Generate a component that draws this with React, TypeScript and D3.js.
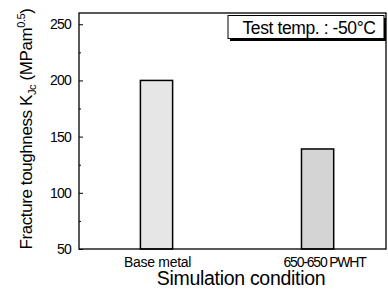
import * as d3 from 'd3';
import { useEffect, useRef } from 'react';

const categories = ['Base metal', '650-650 PWHT'];
const toughness = [200, 139];
const barFills = ['#e6e6e6', '#d4d4d4'];
const yTicks = [50, 100, 150, 200, 250];
const yMinorTicks = [75, 125, 175, 225];

const FONT = 'Liberation Sans, Arial, sans-serif';

const App = () => {
  const svgRef = useRef<SVGSVGElement>(null);

  useEffect(() => {
    const width = 388;
    const height = 292;
    const margin = { top: 13, right: 2, bottom: 43, left: 79 };

    const svg = d3.select(svgRef.current);
    svg.selectAll('*').remove();

    // bars sit off-centre, a bit right of the quarter marks
    const x = d3.scaleBand()
      .domain(categories)
      .range([margin.left, width - margin.right])
      .paddingInner(0.8)
      .paddingOuter(0.353)
      .align(0.54);

    const y = d3.scaleLinear()
      .domain([50, 260])
      .range([height - margin.bottom, margin.top]);

    // bars
    svg.selectAll('rect.bar')
      .data(categories)
      .join('rect')
      .attr('class', 'bar')
      .attr('x', d => x(d)!)
      .attr('y', (d, i) => y(toughness[i]))
      .attr('width', x.bandwidth())
      .attr('height', (d, i) => y(50) - y(toughness[i]))
      .attr('fill', (d, i) => barFills[i])
      .attr('stroke', '#000')
      .attr('stroke-width', 1.5);

    // frame
    svg.append('rect')
      .attr('x', margin.left)
      .attr('y', margin.top)
      .attr('width', width - margin.right - margin.left)
      .attr('height', height - margin.bottom - margin.top)
      .attr('fill', 'none')
      .attr('stroke', '#000')
      .attr('stroke-width', 1.3);

    // y axis
    const yAxis = svg.append('g')
      .attr('transform', `translate(${margin.left},0)`)
      .call(d3.axisLeft(y).tickValues(yTicks).tickSizeInner(-4).tickSizeOuter(0).tickPadding(8));
    yAxis.select('.domain').remove();
    yAxis.selectAll('text')
      .attr('font-family', FONT)
      .attr('font-size', 14)
      .attr('letter-spacing', -0.8)
      .attr('fill', '#000');

    svg.append('g')
      .attr('transform', `translate(${margin.left},0)`)
      .call(d3.axisLeft(y).tickValues(yMinorTicks).tickSizeInner(-2).tickSizeOuter(0).tickFormat(() => ''))
      .select('.domain').remove();

    // x axis labels
    const xAxis = svg.append('g')
      .attr('transform', `translate(0,${height - margin.bottom})`)
      .call(d3.axisBottom(x).tickSize(0).tickPadding(8));
    xAxis.select('.domain').remove();
    xAxis.selectAll('text')
      .attr('font-family', FONT)
      .attr('font-size', 14)
      .attr('letter-spacing', (d, i) => (i === 0 ? -0.3 : -1.2))
      .attr('dx', (d, i) => (i === 0 ? 1 : 7))
      .attr('fill', '#000');

    // axis titles
    svg.append('text')
      .attr('x', 241)
      .attr('y', 285)
      .attr('text-anchor', 'middle')
      .attr('font-family', FONT)
      .attr('font-size', 19.5)
      .attr('letter-spacing', -0.3)
      .text('Simulation condition');

    const yTitle = svg.append('text')
      .attr('transform', `translate(32,129) rotate(-90)`)
      .attr('text-anchor', 'middle')
      .attr('font-family', FONT)
      .attr('font-size', 17)
      .attr('letter-spacing', -0.4);
    yTitle.append('tspan').text('Fracture toughness K');
    yTitle.append('tspan').attr('font-size', 11).attr('dy', 4).text('Jc');
    yTitle.append('tspan').attr('dy', -4).text(' (MPam');
    yTitle.append('tspan').attr('font-size', 11).attr('dy', -7).text('0.5');
    yTitle.append('tspan').attr('dy', 7).text(')');

    // legend box with drop shadow
    const lg = svg.append('g');
    lg.append('rect')
      .attr('x', 230).attr('y', 18).attr('width', 156).attr('height', 23)
      .attr('fill', '#000');
    lg.append('rect')
      .attr('x', 228).attr('y', 15.5).attr('width', 156).attr('height', 23)
      .attr('fill', '#fff').attr('stroke', '#000').attr('stroke-width', 1);
    lg.append('text')
      .attr('x', 309).attr('y', 33.5)
      .attr('text-anchor', 'middle')
      .attr('font-family', FONT)
      .attr('font-size', 17.5)
      .attr('letter-spacing', -0.4)
      .text('Test temp. : -50°C');
  }, []);

  return <svg ref={svgRef} width={388} height={292} style={{ position: 'absolute', left: 0, top: 0, background: '#fff' }} />;
};

export default App;
